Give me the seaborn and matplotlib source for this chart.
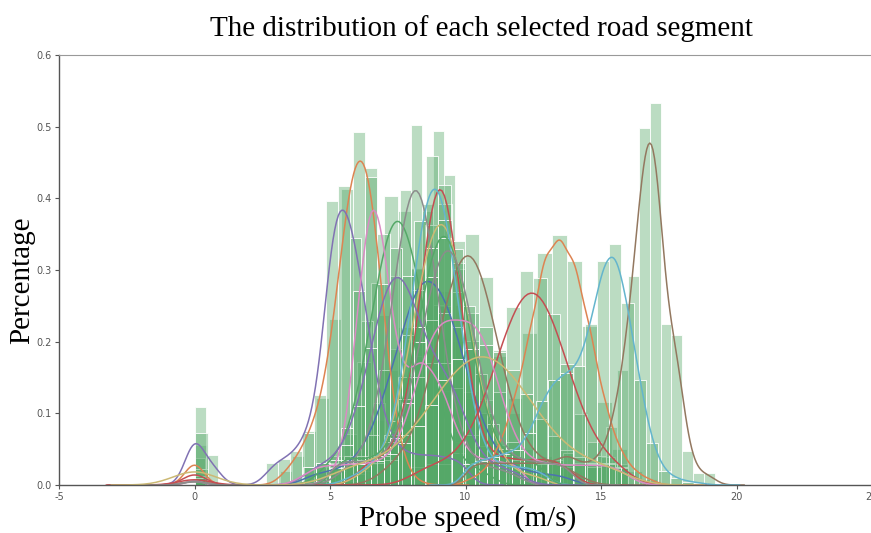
import numpy as np
import pandas as pd
import matplotlib
matplotlib.use("Agg")
import matplotlib.pyplot as plt
import seaborn as sns

# ---------------- data (densities) ----------------
# each road segment: stopped-probe bins starting at 0, first moving bin edge,
# bin width and bar densities of the moving probes
seg_color = ["blue", "orange", "green", "red", "purple", "brown", "pink", "gray", "olive", "cyan",
             "orange", "green", "red", "purple", "brown", "pink", "gray", "olive", "cyan"]

seg_stop = [[], [0.055], [], [0.0375], [0.105, 0.04], [0.012], [0.01], [0.012], [], [],
            [], [], [0.022], [], [], [], [0.01], [0.075], []]
seg_lo = [4.0, 3.15, 4.5, 6.0, 2.64, 6.5, 4.5, 5.2, 5.5, 5.4,
          9.9, 5.0, 8.0, 4.05, 10.1, 4.0, 4.95, 5.0, 9.9]
seg_w = [0.5, 0.45, 0.5, 0.4, 0.44, 0.5, 0.45, 0.4, 0.5, 0.45,
         0.55, 0.5, 0.5, 0.45, 0.4, 0.5, 0.45, 0.5, 0.45]
# kernel bandwidth of each segment's density line (m/s)
seg_bw = [0.45, 0.36, 0.44, 0.43, 0.36, 0.5, 0.3, 0.46, 0.39, 0.4,
          0.3, 0.35, 0.6, 0.49, 0.3, 0.5, 0.35, 0.8, 0.3]

h_blue1 = [.015, .018, .02, .03, .05, .09, .16, .22, .30, .29, .27, .20, .13, .07, .04, .025, .02, .015, .015, .012]
h_orange1 = [.02, .04, .075, .12, .23, .41, .49, .44, .235, .075, .015, .003]
h_green1 = [.025, .04, .07, .17, .28, .40, .38, .30, .16, .08, .035, .025, .02]
h_red1 = [.03, .04, .035, .05, .09, .2, .38, .49, .43, .25, .12, .05, .04, .035, .04, .03, .035, .04, .03, .03]
h_purple1 = [.03, .035, .045, .07, .12, .38, .40, .33, .22, .11, .06, .045, .04, .04, .04, .035, .035]
h_brown1 = [.01, .03, .045, .08, .16, .25, .34, .35, .29, .18, .10, .05, .035, .03, .028, .01]
h_pink1 = [.005, .015, .08, .27, .43, .35, .19, .15, .18, .16, .13, .075, .045, .035, .035, .03, .03]
h_gray1 = [.02, .03, .04, .07, .16, .29, .41, .50, .39, .25, .13, .06, .035, .025, .025, .02, .02]
h_olive1 = [.005, .02, .03, .07, .15, .27, .36, .39, .30, .2, .1, .045, .02, .015, .012]
h_cyan1 = [.01, .015, .03, .045, .09, .21, .37, .46, .42, .27, .13, .055, .03, .025, .025, .025, .02]
h_orange2 = [.008, .02, .055, .12, .21, .32, .345, .31, .22, .115, .05, .02, .008]
h_green2 = [.03, .04, .035, .04, .06, .12, .22, .33, .37, .31, .19, .10, .05, .04, .035, .03]
h_red2 = [.025, .03, .03, .045, .07, .12, .19, .25, .30, .29, .24, .17, .10, .06, .04, .03]
h_purple2 = [.025, .03, .035, .055, .11, .19, .28, .33, .29, .22, .17, .17, .135, .07, .035, .025, .025, .02]
h_brown2 = [.03, .03, .03, .03, .03, .03, .03, .03, .035, .045, .03, .03, .04, .08, .16, .29, .495, .53,
            .223, .208, .047, .016, .016]
h_pink2 = [.025, .03, .025, .03, .03, .03, .035, .07, .15, .23, .24, .22, .24, .22, .13, .06, .035, .03,
           .03, .025, .03, .025, .03, .025]
h_gray2 = [.03, .035, .03, .035, .04, .065, .115, .2, .29, .345, .33, .25, .155, .085, .05, .035, .035, .03, .03, .03]
h_olive2 = [.025, .03, .03, .035, .045, .06, .085, .115, .15, .18, .195, .2, .19, .165, .13, .095, .07, .05,
            .04, .03, .03, .025]
h_cyan2 = [.03, .035, .04, .045, .05, .075, .12, .15, .16, .17, .23, .32, .345, .26, .15, .06, .02, .01, .005, .003]

seg_h = [h_blue1, h_orange1, h_green1, h_red1, h_purple1, h_brown1, h_pink1, h_gray1, h_olive1, h_cyan1,
         h_orange2, h_green2, h_red2, h_purple2, h_brown2, h_pink2, h_gray2, h_olive2, h_cyan2]

x_ticks = [-5, 0, 5, 10, 15, 20, 25]
y_ticks = [0.0, 0.1, 0.2, 0.3, 0.4, 0.5, 0.6]

title_text = "The distribution of each selected road segment"
x_label = "Probe speed  (m/s)"
y_label = "Percentage"

# ---------------- drawing ----------------
sns.set_theme(style="ticks")
plt.rcParams["font.family"] = ["DejaVu Sans"]
serif = ["Liberation Serif", "DejaVu Serif"]

pal = dict(zip(["blue", "orange", "green", "red", "purple", "brown", "pink", "gray", "olive", "cyan"],
               sns.color_palette("deep", 10)))
bar_green = pal["green"]

fig = plt.figure(figsize=(8.71, 5.33), dpi=100)
ax = fig.add_axes([59 / 871, 1 - 485 / 533, 813 / 871, 430 / 533])

for col, stop, lo, w, h, bw in zip(seg_color, seg_stop, seg_lo, seg_w, seg_h, seg_bw):
    k_lo = int(round(lo / w))
    if stop:
        dens = list(stop) + [0.0] * (k_lo - len(stop)) + list(h)
        k0 = 0
    else:
        dens = list(h)
        k0 = k_lo
    dens = np.array(dens)
    idx = np.arange(k0, k0 + len(dens))
    centers = w * (idx + 0.5)
    centers[idx == 0] = 0.0          # stopped probes: speed exactly 0
    mass = dens * w
    keep = mass > 0
    df = pd.DataFrame({"speed": centers[keep], "wt": mass[keep]})
    b_lo = w * k0
    b_hi = w * (k0 + len(dens))

    sns.histplot(data=df, x="speed", weights="wt", binwidth=w, binrange=(b_lo, b_hi - 1e-6),
                 stat="density", color=bar_green, alpha=0.4, edgecolor="white",
                 linewidth=0.6, ax=ax)
    sd = np.sqrt(np.cov(df["speed"].values, aweights=df["wt"].values))
    sns.kdeplot(data=df, x="speed", weights="wt", bw_method=bw / sd, color=pal[col],
                linewidth=1.1, ax=ax)

ax.set_xlim(-5, 25)
ax.set_ylim(0, 0.6)
ax.set_xticks(x_ticks)
ax.set_yticks(y_ticks)
ax.set_xticklabels([str(t) for t in x_ticks])
ax.set_yticklabels([f"{t:.1f}" for t in y_ticks])
ax.set_xlabel("")
ax.set_ylabel("")
ax.tick_params(axis="both", labelsize=7, labelcolor="#555555", color="#555555",
               length=3.0, width=0.8, direction="out", pad=2)
for side in ["left", "bottom"]:
    ax.spines[side].set_color("#555555")
    ax.spines[side].set_linewidth(1.0)
ax.spines["top"].set_visible(True)
ax.spines["top"].set_color("#999999")
ax.spines["top"].set_linewidth(0.8)
ax.spines["right"].set_visible(False)

fig.text(0.553, 0.947, title_text, family=serif, fontsize=21, ha="center", va="center", color="black")
fig.text(0.537, 0.027, x_label, family=serif, fontsize=21, ha="center", va="center", color="black")
fig.text(0.026, 0.475, y_label, family=serif, fontsize=21, ha="center", va="center",
         rotation=90, color="black")

fig.savefig("out.png", dpi=100)
